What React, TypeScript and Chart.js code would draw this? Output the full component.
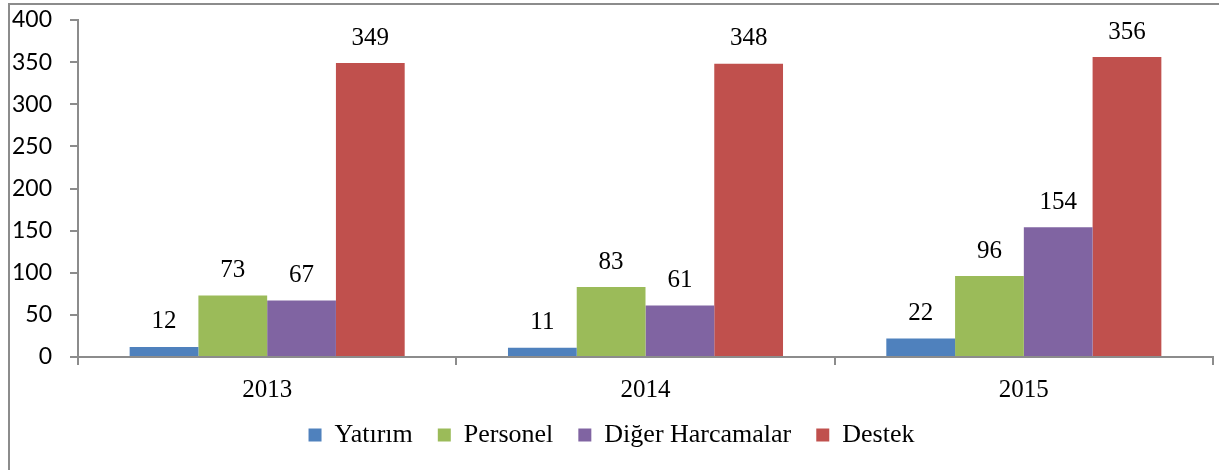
import React, { useEffect, useRef } from "react";
import { Chart, registerables } from "chart.js";

Chart.register(...registerables);

const categories = ["2013", "2014", "2015"];
const yatirim = [12, 11, 22];
const personel = [73, 83, 96];
const digerHarcamalar = [67, 61, 154];
const destek = [349, 348, 356];
const seriesNames = ["Yatırım", "Personel", "Diğer Harcamalar", "Destek"];
const seriesColors = ["#4F81BD", "#9BBB59", "#8064A2", "#C0504D"];
const yTicks = [0, 50, 100, 150, 200, 250, 300, 350, 400];

const SERIF = "'Liberation Serif', 'Times New Roman', serif";
const SANS = "Lato, 'Liberation Sans', sans-serif";
const AXIS = "#8c8c8c";

const valueLabels = {
  id: "valueLabels",
  afterDatasetsDraw(chart: any) {
    const ctx = chart.ctx;
    ctx.save();
    ctx.font = `25px ${SERIF}`;
    ctx.fillStyle = "#000";
    ctx.textAlign = "center";
    ctx.textBaseline = "middle";
    chart.data.datasets.forEach((ds: any, di: number) => {
      const meta = chart.getDatasetMeta(di);
      meta.data.forEach((bar: any, i: number) => {
        ctx.fillText(String(ds.data[i]), bar.x, bar.y - 25);
      });
    });
    ctx.restore();
  },
};

export default function App() {
  const ref = useRef<HTMLCanvasElement | null>(null);
  useEffect(() => {
    if (!ref.current) return;
    const data = [yatirim, personel, digerHarcamalar, destek];
    const chart = new Chart(ref.current, {
      type: "bar",
      data: {
        labels: categories,
        datasets: data.map((d, i) => ({
          label: seriesNames[i],
          data: d,
          backgroundColor: seriesColors[i],
          borderWidth: 0,
          categoryPercentage: 0.727,
          barPercentage: 1,
        })),
      },
      options: {
        animation: false,
        responsive: false,
        maintainAspectRatio: false,
        layout: { padding: { top: 15, right: 6, left: 0, bottom: 12 } },
        plugins: {
          tooltip: { enabled: false },
          legend: {
            position: "bottom",
            labels: {
              boxWidth: 13,
              boxHeight: 13,
              padding: 25,
              color: "#000",
              font: { family: SERIF, size: 26, lineHeight: 1 },
            },
          },
        },
        scales: {
          x: {
            afterFit(scale: any) {
              scale.height = 40;
            },
            grid: {
              display: true,
              drawOnChartArea: false,
              drawTicks: true,
              tickLength: 8,
              color: AXIS,
              lineWidth: 2,
              offset: true,
            },
            border: { display: true, color: AXIS, width: 2 },
            ticks: {
              color: "#000",
              padding: 10,
              font: { family: SERIF, size: 25 },
            },
          },
          y: {
            min: 0,
            max: 400,
            afterBuildTicks(scale: any) {
              scale.ticks = yTicks.map((v) => ({ value: v }));
            },
            afterFit(scale: any) {
              scale.width = 68;
              scale.paddingTop = 0;
              scale.paddingBottom = 0;
            },
            grid: {
              display: true,
              drawOnChartArea: false,
              drawTicks: true,
              tickLength: 8,
              color: AXIS,
              lineWidth: 2,
            },
            border: { display: true, color: AXIS, width: 2 },
            ticks: {
              color: "#000",
              padding: 18,
              font: { family: SANS, size: 23 },
            },
          },
        },
      },
      plugins: [valueLabels],
    });
    return () => chart.destroy();
  }, []);

  return (
    <div
      style={{
        position: "absolute",
        left: 8,
        top: 3,
        width: 1209,
        height: 465,
        borderTop: `2px solid ${AXIS}`,
        borderLeft: `2px solid ${AXIS}`,
        background: "#fff",
      }}
    >
      <canvas ref={ref} width={1209} height={465} style={{ display: "block" }} />
    </div>
  );
}
